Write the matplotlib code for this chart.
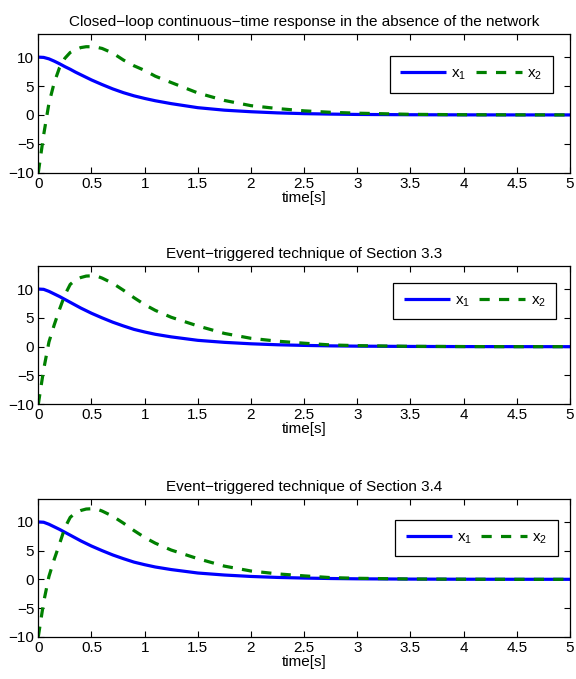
import matplotlib
matplotlib.use("Agg")
import matplotlib.pyplot as plt

plt.rcParams['font.family'] = ['Liberation Sans', 'DejaVu Sans']
plt.rcParams['mathtext.fontset'] = 'custom'
plt.rcParams['mathtext.rm'] = 'Liberation Sans'
plt.rcParams['mathtext.it'] = 'Liberation Sans'
plt.rcParams['mathtext.bf'] = 'Liberation Sans:bold'

# ---- data ----
t = [0, 0.05, 0.1, 0.15, 0.2, 0.25, 0.3, 0.35, 0.4, 0.45, 0.5, 0.55, 0.6, 0.7, 0.8,
     0.9, 1.0, 1.1, 1.25, 1.5, 1.75, 2.0, 2.25, 2.5, 2.75, 3.0, 3.5, 4.0, 4.5, 5.0]

# Closed-loop continuous-time response
x1_ct = [10, 9.95, 9.7, 9.3, 8.85, 8.35, 7.9, 7.4, 6.95, 6.5, 6.05, 5.65, 5.25, 4.5, 3.85,
         3.3, 2.85, 2.45, 1.95, 1.25, 0.82, 0.55, 0.35, 0.22, 0.14, 0.08, 0.03, 0.01, 0.0, 0.0]
x2_ct = [-10, -3.5, 2.0, 5.6, 8.2, 9.8, 10.8, 11.3, 11.65, 11.8, 11.8, 11.7, 11.5, 10.7, 9.5,
         8.5, 7.7, 6.7, 5.6, 3.8, 2.5, 1.6, 1.1, 0.7, 0.45, 0.3, 0.1, 0.03, 0.01, 0.0]

# Event-triggered technique of Section 3.3
x1_33 = [10, 9.95, 9.6, 9.15, 8.7, 8.2, 7.7, 7.2, 6.7, 6.25, 5.8, 5.4, 5.0, 4.25, 3.6,
         3.0, 2.55, 2.15, 1.7, 1.1, 0.75, 0.5, 0.33, 0.22, 0.14, 0.09, 0.04, 0.015, 0.005, 0.0]
x2_33 = [-10, -4.0, 0.8, 3.8, 6.5, 9.0, 10.8, 11.6, 12.0, 12.25, 12.3, 12.25, 11.9, 11.0, 9.8,
         8.5, 7.3, 6.3, 5.1, 3.6, 2.3, 1.45, 0.95, 0.6, 0.3, 0.18, 0.06, 0.02, 0.0, 0.0]

# Event-triggered technique of Section 3.4
x1_34 = [10, 9.95, 9.6, 9.15, 8.7, 8.2, 7.7, 7.2, 6.7, 6.25, 5.8, 5.4, 5.0, 4.25, 3.6,
         3.0, 2.55, 2.15, 1.7, 1.1, 0.75, 0.5, 0.33, 0.22, 0.14, 0.09, 0.04, 0.015, 0.005, 0.0]
x2_34 = [-10, -4.0, 0.5, 3.5, 6.2, 9.0, 10.8, 11.6, 12.0, 12.25, 12.3, 12.25, 11.9, 11.0, 9.8,
         8.5, 7.3, 6.3, 5.1, 3.6, 2.3, 1.45, 0.95, 0.6, 0.3, 0.18, 0.06, 0.02, 0.0, 0.0]

titles = ["Closed\u2212loop continuous\u2212time response in the absence of the network",
          "Event\u2212triggered technique of Section 3.3",
          "Event\u2212triggered technique of Section 3.4"]
xticks = [0, 0.5, 1, 1.5, 2, 2.5, 3, 3.5, 4, 4.5, 5]
xticklabels = ["0", "0.5", "1", "1.5", "2", "2.5", "3", "3.5", "4", "4.5", "5"]
yticks = [-10, -5, 0, 5, 10]
yticklabels = ["\u221210", "\u22125", "0", "5", "10"]
labels = [r"x$_1$", r"x$_2$"]

series = [(x1_ct, x2_ct), (x1_33, x2_33), (x1_34, x2_34)]

# ---- layout ----
fig = plt.figure(figsize=(5.76, 6.79), dpi=100)
W, H = 576, 679
left_px, right_px = 38.3, 570.0
axes_px = [(34.0, 172.7), (266.0, 404.3), (499.0, 636.7)]
legend_px = [(389.5, 56.0), (393.3, 282.7), (395.0, 519.6)]
FS = 11

for i, (top, bot) in enumerate(axes_px):
    ax = fig.add_axes([left_px / W, 1 - bot / H, (right_px - left_px) / W, (bot - top) / H])
    x1, x2 = series[i]
    ax.plot(t, x1, color=(0, 0, 1), lw=2.3, label=labels[0], solid_capstyle='butt')
    ax.plot(t, x2, color=(0, 0.5, 0), lw=2.3, label=labels[1], dashes=(3.2, 2.9),
            dash_capstyle='butt')
    ax.set_xlim(0, 5)
    ax.set_ylim(-10, 14)
    ax.set_xticks(xticks)
    ax.set_xticklabels(xticklabels)
    ax.set_yticks(yticks)
    ax.set_yticklabels(yticklabels)
    ax.tick_params(direction='in', length=4, width=0.8, top=True, right=True,
                   labelsize=FS, pad=3, colors='black')
    for sp in ax.spines.values():
        sp.set_linewidth(0.9)
        sp.set_color('black')
    ax.set_xlabel("time[s]", fontsize=FS, labelpad=0)
    ax.set_title(titles[i], fontsize=FS, pad=6)
    lx, ly = legend_px[i]
    ax_w = right_px - left_px
    ax_h = bot - top
    anchor = ((lx - left_px) / ax_w, (bot - ly) / ax_h)
    leg = ax.legend(loc='upper left', bbox_to_anchor=anchor, ncol=2, fontsize=FS,
                    handlelength=3.0, handletextpad=0.35, columnspacing=0.6,
                    borderpad=0.7, borderaxespad=0, fancybox=False, framealpha=1,
                    edgecolor='black')
    leg.get_frame().set_linewidth(0.9)

fig.savefig("out.png", dpi=100)
